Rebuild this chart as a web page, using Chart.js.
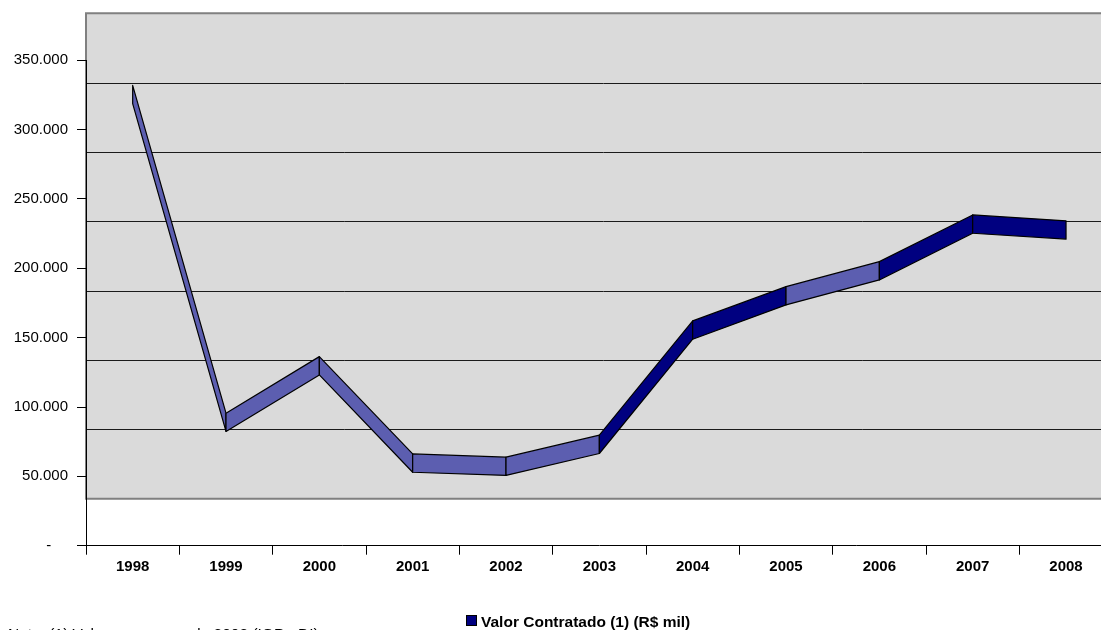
<!DOCTYPE html>
<html>
<head>
<meta charset="utf-8">
<script src="https://cdn.jsdelivr.net/npm/chart.js@4/dist/chart.umd.min.js"></script>
<style>
  html, body { margin: 0; padding: 0; background: #ffffff; overflow: hidden; }
  #wrap { width: 1101px; height: 630px; overflow: hidden; }
</style>
</head>
<body>
<div id="wrap"><canvas id="c" width="1120" height="630"></canvas></div>
<script>
// Contracted value per year (R$ mil)
const years = ['1998', '1999', '2000', '2001', '2002', '2003', '2004', '2005', '2006', '2007', '2008'];
const valorContratado = [308400, 72000, 112750, 42580, 40270, 56100, 138490, 163220, 181250, 214920, 210700];
const yTicks = [0, 50000, 100000, 150000, 200000, 250000, 300000, 350000];
const seriesLabel = 'Valor Contratado (1) (R$ mil)';
const noteText = 'Nota: (1) Valores a preços de 2008 (IGP - DI)';

// 3D look: depth of the back wall and of the ribbon, in pixels
const WALL_DEPTH = 47;
const RIBBON_FRONT = 14.4;
const RIBBON_THICK = 18.3;
const LIGHT = '#5C5EB0';
const DARK = '#000080';
// face shade of each segment (lit / in shadow)
const segmentShade = [LIGHT, LIGHT, LIGHT, LIGHT, LIGHT, DARK, DARK, LIGHT, DARK, DARK];

const FONT = "'Liberation Sans', Arial, sans-serif";

function fmtThousands(v) {
  if (v === 0) return '-    ';
  return String(v).replace(/\B(?=(\d{3})+(?!\d))/g, '.');
}

const wallPlugin = {
  id: 'wall3d',
  beforeDraw(chart) {
    const { ctx, chartArea: a, scales: { y } } = chart;
    const top = y.getPixelForValue(y.max) - WALL_DEPTH;
    const bottom = y.getPixelForValue(y.min) - WALL_DEPTH;
    ctx.save();
    ctx.fillStyle = '#DADADA';
    ctx.fillRect(a.left, top, a.right - a.left + 20, bottom - top);
    // gridlines on the back wall
    ctx.strokeStyle = '#1a1a1a';
    ctx.lineWidth = 1;
    yTicks.forEach(v => {
      if (v === y.min || v === y.max) return;
      const py = Math.round(y.getPixelForValue(v) - WALL_DEPTH) + 0.5;
      ctx.beginPath();
      ctx.moveTo(a.left, py);
      ctx.lineTo(a.right + 20, py);
      ctx.stroke();
    });
    // wall edges
    ctx.strokeStyle = '#808080';
    ctx.lineWidth = 2;
    ctx.beginPath();
    ctx.moveTo(a.right + 20, top);
    ctx.lineTo(a.left, top);
    ctx.lineTo(a.left, bottom);
    ctx.lineTo(a.right + 20, bottom);
    ctx.stroke();
    ctx.restore();
  }
};

const ribbonPlugin = {
  id: 'ribbon3d',
  afterDatasetsDraw(chart) {
    const { ctx } = chart;
    const pts = chart.getDatasetMeta(0).data;
    ctx.save();
    ctx.lineJoin = 'round';
    ctx.strokeStyle = '#000000';
    ctx.lineWidth = 1.2;
    for (let i = 0; i < pts.length - 1; i++) {
      const p0 = pts[i], p1 = pts[i + 1];
      const f0 = p0.y - RIBBON_FRONT, f1 = p1.y - RIBBON_FRONT;
      ctx.beginPath();
      ctx.moveTo(p0.x, f0);
      ctx.lineTo(p1.x, f1);
      ctx.lineTo(p1.x, f1 - RIBBON_THICK);
      ctx.lineTo(p0.x, f0 - RIBBON_THICK);
      ctx.closePath();
      ctx.fillStyle = segmentShade[i];
      ctx.fill();
      ctx.stroke();
    }
    ctx.restore();
  },
  afterDraw(chart) {
    const { ctx } = chart;
    ctx.save();
    // legend
    ctx.fillStyle = DARK;
    ctx.fillRect(466.5, 615.5, 10, 10);
    ctx.strokeStyle = '#000000';
    ctx.lineWidth = 1;
    ctx.strokeRect(466.5, 615.5, 10, 10);
    ctx.fillStyle = '#000000';
    ctx.font = 'bold 15.5px ' + FONT;
    ctx.textBaseline = 'alphabetic';
    ctx.textAlign = 'left';
    ctx.fillText(seriesLabel, 481, 626.5);
    // footnote
    ctx.font = '15.5px ' + FONT;
    ctx.fillText(noteText, 8, 638.5);
    ctx.restore();
  }
};

new Chart(document.getElementById('c'), {
  type: 'line',
  data: {
    labels: years,
    datasets: [{
      label: seriesLabel,
      data: valorContratado,
      showLine: false,
      pointRadius: 0,
      pointHoverRadius: 0,
      backgroundColor: DARK,
      borderColor: '#000000'
    }]
  },
  options: {
    responsive: false,
    animation: false,
    events: [],
    layout: { padding: { top: 60.3, left: 0, right: 7.3, bottom: 0 } },
    plugins: { legend: { display: false }, tooltip: { enabled: false } },
    scales: {
      x: {
        type: 'category',
        offset: true,
        afterFit: s => { s.height = 84.3; },
        grid: { offset: true, drawOnChartArea: false, drawTicks: true, tickLength: 9, color: '#000000' },
        border: { display: true, color: '#000000', width: 1 },
        ticks: { color: '#000000', padding: 3, font: { family: FONT, size: 15, weight: 'bold' }, maxRotation: 0, autoSkip: false }
      },
      y: {
        min: 0,
        max: 350000,
        afterFit: s => { s.width = 86; },
        afterBuildTicks: s => { s.ticks = yTicks.map(v => ({ value: v })); },
        grid: { drawOnChartArea: false, drawTicks: true, tickLength: 9, color: '#000000' },
        border: { display: true, color: '#000000', width: 1 },
        ticks: { color: '#000000', padding: 9, font: { family: FONT, size: 15 }, callback: v => fmtThousands(v) }
      }
    }
  },
  plugins: [wallPlugin, ribbonPlugin]
});
</script>
</body>
</html>
